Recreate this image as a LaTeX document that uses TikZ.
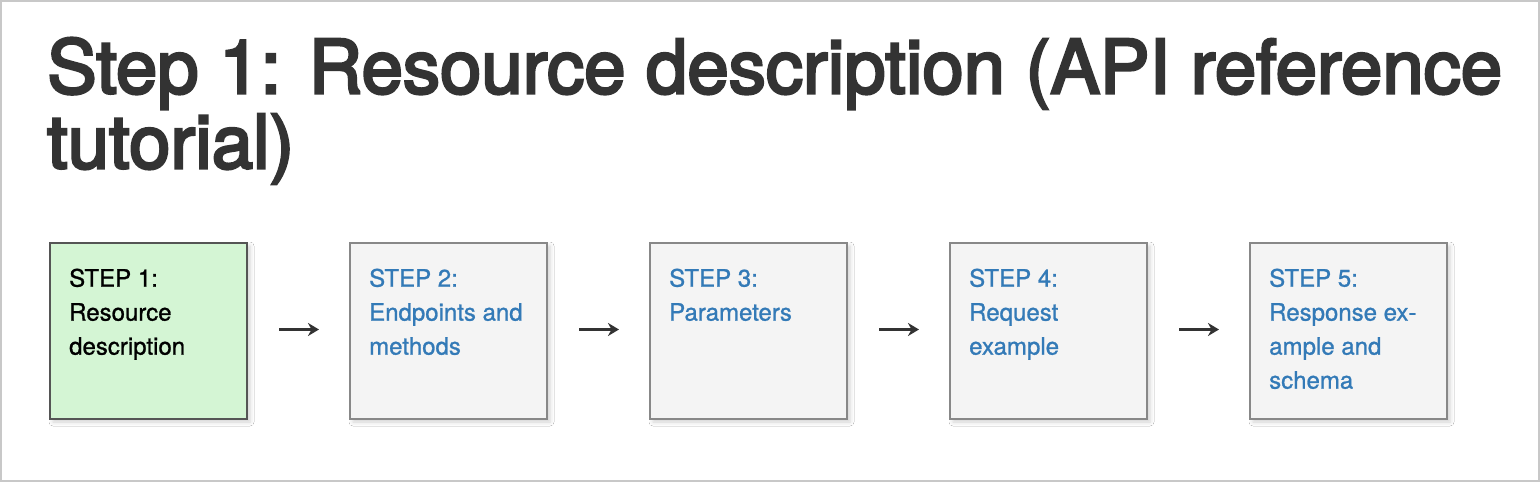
\documentclass[tikz,border=0pt]{standalone}
\usepackage{fontspec}
\setmainfont{TeX Gyre Heros}
\newfontfamily\titlefont[FakeBold=3.5]{TeX Gyre Heros}
\newfontfamily\boxfont[FakeBold=1]{TeX Gyre Heros}
\usetikzlibrary{arrows.meta,shadows.blur}
\definecolor{frame}{HTML}{C8C8C8}
\definecolor{titlecol}{HTML}{333333}
\definecolor{linkcol}{HTML}{337AB7}
\definecolor{boxfill}{HTML}{F4F4F4}
\definecolor{boxline}{HTML}{888888}
\definecolor{activefill}{HTML}{D4F5D4}
\definecolor{activeline}{HTML}{555555}
\tikzset{
  stepbox/.style={draw=boxline, fill=boxfill, line width=2pt, minimum width=197pt, minimum height=176pt, inner sep=0pt, anchor=north west,
    blur shadow={shadow xshift=3pt, shadow yshift=-3pt, shadow blur radius=4pt, shadow opacity=18}},
  activebox/.style={stepbox, draw=activeline, fill=activefill},
  steptext/.style={anchor=north west, inner sep=0pt, align=left, text=linkcol, font=\boxfont\fontsize{24}{34}\selectfont},
  activetext/.style={steptext, text=black},
  arr/.style={draw=titlecol, line width=2.4pt, -{Stealth[length=11pt,width=13pt,inset=3.5pt]}, shorten <=31pt, shorten >=30pt},
}
\begin{document}
\begin{tikzpicture}[x=1pt,y=-1pt]
\useasboundingbox (0,0) rectangle (1540,482);
\fill[white] (0,0) rectangle (1540,482);
\draw[frame, line width=2pt] (1,1) rectangle (1538.5,481);
\node[anchor=north west, inner sep=0pt, align=left, text=titlecol, font=\titlefont\fontsize{74.3}{75}\selectfont] (title) at (47,37.5)
  {Step 1: Resource description (API reference\\tutorial)};
\foreach \i/\x in {1/49,2/349,3/649,4/949,5/1249}{
  \coordinate (p\i) at (\x,242);
}
\node[activebox] (b1) at (p1) {};
\node[stepbox] (b2) at (p2) {};
\node[stepbox] (b3) at (p3) {};
\node[stepbox] (b4) at (p4) {};
\node[stepbox] (b5) at (p5) {};
\node[activetext] (t1) at ([shift={(20,26.5)}]b1.north west) {STEP 1:\\Resource\\description};
\node[steptext] (t2) at ([shift={(20,26.5)}]b2.north west) {STEP 2:\\Endpoints and\\methods};
\node[steptext] (t3) at ([shift={(20,26.5)}]b3.north west) {STEP 3:\\Parameters};
\node[steptext] (t4) at ([shift={(20,26.5)}]b4.north west) {STEP 4:\\Request\\example};
\node[steptext] (t5) at ([shift={(20,26.5)}]b5.north west) {STEP 5:\\Response ex-\\ample and\\schema};
\draw[arr] ([yshift=1.5pt]b1.east) -- ([yshift=1.5pt]b2.west);
\draw[arr] ([yshift=1.5pt]b2.east) -- ([yshift=1.5pt]b3.west);
\draw[arr] ([yshift=1.5pt]b3.east) -- ([yshift=1.5pt]b4.west);
\draw[arr] ([yshift=1.5pt]b4.east) -- ([yshift=1.5pt]b5.west);
\end{tikzpicture}
\end{document}
